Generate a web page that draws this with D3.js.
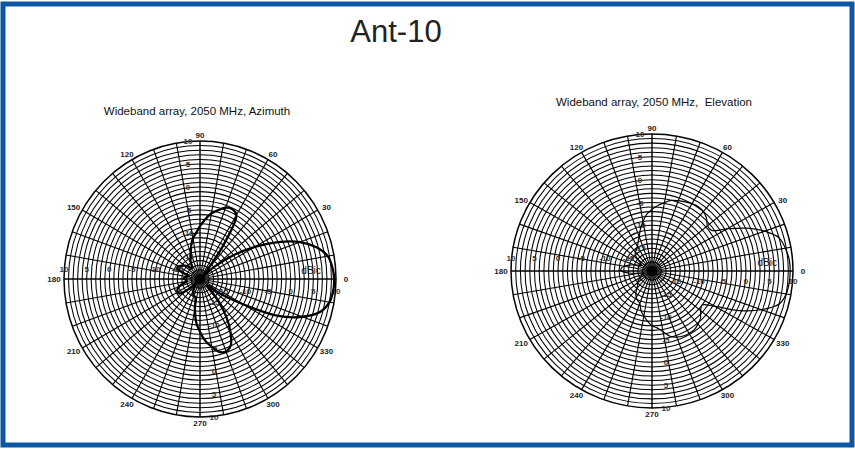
<!DOCTYPE html>
<html>
<head>
<meta charset="utf-8">
<script src="https://cdn.jsdelivr.net/npm/d3@7"></script>
<style>
  html, body { margin: 0; padding: 0; background: #fff; }
  svg { display: block; font-family: "Liberation Sans", Arial, sans-serif; }
</style>
</head>
<body>
<svg id="chart"></svg>
<script>
// chart data
var titleText = "Ant-10";
var azTitle = "Wideband array, 2050 MHz, Azimuth";
var elTitle = "Wideband array, 2050 MHz,\u00a0 Elevation";

var angleLabels = [0, 30, 60, 90, 120, 150, 180, 210, 240, 270, 300, 330];
var dbLabels = [10, 5, 0, -5, -10, -15];

var patternAngles = [0, 5, 10, 15, 20, 25, 30, 35, 40, 45, 50, 55, 60, 65, 70, 75, 80, 85,
    90, 95, 100, 105, 110, 115, 120, 125, 130, 135, 140, 145, 150, 155, 160, 165, 170, 175,
    180, 185, 190, 195, 200, 205, 210, 215, 220, 225, 230, 235, 240, 245, 250, 255, 260, 265,
    270, 275, 280, 285, 290, 295, 300, 305, 310, 315, 320, 325, 330, 335, 340, 345, 350, 355];

// dBic, azimuth cut
var azGain = [9.6, 9.3, 8.6, 6.6, 3.5, -1, -6, -11, -16, -19, -18, -11, -4, -3.2, -3.5, -4.5, -5.5, -7,
    -8.5, -10, -11, -12.5, -14, -15, -16, -17, -17, -16, -15.5, -15, -14.5, -14.5, -16, -17.5, -17, -16.5,
    -16.5, -17, -17, -16, -15, -14.5, -14.3, -14.5, -16, -18, -19, -18, -17, -16.5, -16, -16, -13.5, -10.5,
    -8.5, -6.5, -5, -3.6, -3.2, -4, -6.5, -9.8, -13.5, -17, -18, -14, -9, -1, 4, 7.5, 9, 9.5];

// dBic, elevation cut
var elGain = [9.4, 9.3, 8.8, 8.0, 5.5, 2.2, -1.5, -4.5, -4.6, -3.6, -3, -2.8, -3, -3.3, -3.6, -4, -4.8, -5.6,
    -6.5, -7.5, -9, -10.5, -12, -13, -13.8, -14.3, -14.5, -15, -16, -17, -17.5, -17, -16, -15, -14, -13.4,
    -13.5, -15, -17, -18, -18, -17.5, -17, -16.5, -16, -15.7, -15, -14, -13.3, -12.8, -12.4, -11, -10, -9,
    -8, -7.5, -6.5, -5.2, -4.6, -4.3, -4.2, -4.3, -4.8, -5.4, -6.5, -7, -4.5, 0.5, 4.8, 8, 9, 9.3];

var W = 855, H = 449;
var svg = d3.select("#chart").attr("width", W).attr("height", H);

svg.append("rect").attr("width", W).attr("height", H).attr("fill", "#fff");

// blue frame
svg.append("rect")
    .attr("x", 3).attr("y", 4)
    .attr("width", W - 6).attr("height", H - 8)
    .attr("fill", "none")
    .attr("stroke", "#0b57a3")
    .attr("stroke-width", 5);

svg.append("text")
    .attr("x", 396).attr("y", 42)
    .attr("text-anchor", "middle")
    .attr("font-size", 31)
    .attr("fill", "#222")
    .text(titleText);

// shared radial scale: -20 dB at centre, +10 dB on the rim
var rScale = d3.scaleLinear().domain([-20, 10]).range([0, 1]).clamp(true);
var toRad = Math.PI / 180;

function drawPolar(cfg, gains, title) {
    var g = svg.append("g");
    var cx = cfg.cx, cy = cfg.cy, rx = cfg.rx, ry = cfg.ry;

    function px(db, a) { return cx + rx * rScale(db) * Math.cos(a * toRad); }
    function py(db, a) { return cy - ry * rScale(db) * Math.sin(a * toRad); }

    g.append("text")
        .attr("x", cfg.titleX).attr("y", cfg.titleY)
        .attr("text-anchor", "middle")
        .attr("font-size", 11.5)
        .attr("fill", "#111")
        .text(title);

    // rings every 1 dB
    g.selectAll("ellipse.ring")
        .data(d3.range(-19, 11))
        .join("ellipse")
        .attr("class", "ring")
        .attr("cx", cx).attr("cy", cy)
        .attr("rx", d => rx * rScale(d))
        .attr("ry", d => ry * rScale(d))
        .attr("fill", "none")
        .attr("stroke", "#000")
        .attr("stroke-width", d => d === 10 ? 1.5 : 1.05);

    // spokes every 10 degrees
    g.selectAll("line.spoke")
        .data(d3.range(0, 360, 10))
        .join("line")
        .attr("class", "spoke")
        .attr("x1", cx).attr("y1", cy)
        .attr("x2", d => px(10, d))
        .attr("y2", d => py(10, d))
        .attr("stroke", "#000")
        .attr("stroke-width", d => d % 90 === 0 ? 1.4 : 1.1);

    // angle labels
    g.selectAll("text.ang")
        .data(angleLabels)
        .join("text")
        .attr("class", "ang")
        .attr("x", d => cx + (rx + 10) * Math.cos(d * toRad))
        .attr("y", d => cy - (ry + 6) * Math.sin(d * toRad) + 3)
        .attr("text-anchor", "middle")
        .attr("font-size", 8)
        .attr("font-weight", "bold")
        .attr("fill", "#222")
        .text(d => d);

    // dB labels along the four axes
    var lab = g.append("g")
        .attr("font-size", 8)
        .attr("font-weight", "bold")
        .attr("fill", "#333")
        .attr("text-anchor", "middle");
    lab.selectAll("text.l").data(dbLabels).join("text").attr("class", "l")
        .attr("x", d => cx - rx * rScale(d)).attr("y", cy - cfg.leftDy).text(d => d);
    lab.selectAll("text.r").data(dbLabels).join("text").attr("class", "r")
        .attr("x", d => cx + rx * rScale(d)).attr("y", cy + cfg.rightDy).text(d => d);
    lab.selectAll("text.t").data(dbLabels).join("text").attr("class", "t")
        .attr("x", cx - 12).attr("y", d => cy - ry * rScale(d) + 3).text(d => d);
    lab.selectAll("text.b").data(dbLabels).join("text").attr("class", "b")
        .attr("x", cx + 14).attr("y", d => cy + ry * rScale(d) + 3).text(d => d);

    g.append("text")
        .attr("x", cx + rx * rScale(cfg.unitDb)).attr("y", cy - 5)
        .attr("text-anchor", "middle")
        .attr("font-size", 10)
        .attr("fill", "#111")
        .text("dBic");

    // pattern trace
    var pts = patternAngles.map((a, i) => ({ a: a, v: gains[i] }));
    var line = d3.line()
        .x(d => px(d.v, d.a))
        .y(d => py(d.v, d.a))
        .curve(d3.curveCatmullRomClosed.alpha(0.5));

    g.append("path")
        .datum(pts)
        .attr("d", line)
        .attr("fill", "none")
        .attr("stroke", "#000")
        .attr("stroke-width", cfg.traceWidth);
}

drawPolar({ cx: 200, cy: 279, rx: 136, ry: 138, titleX: 197, titleY: 115,
            leftDy: 7, rightDy: 15, unitDb: 4.5, traceWidth: 2.3 }, azGain, azTitle);

drawPolar({ cx: 652, cy: 271, rx: 141, ry: 137, titleX: 654, titleY: 106,
            leftDy: 10, rightDy: 13, unitDb: 4.5, traceWidth: 1.2 }, elGain, elTitle);
</script>
</body>
</html>
